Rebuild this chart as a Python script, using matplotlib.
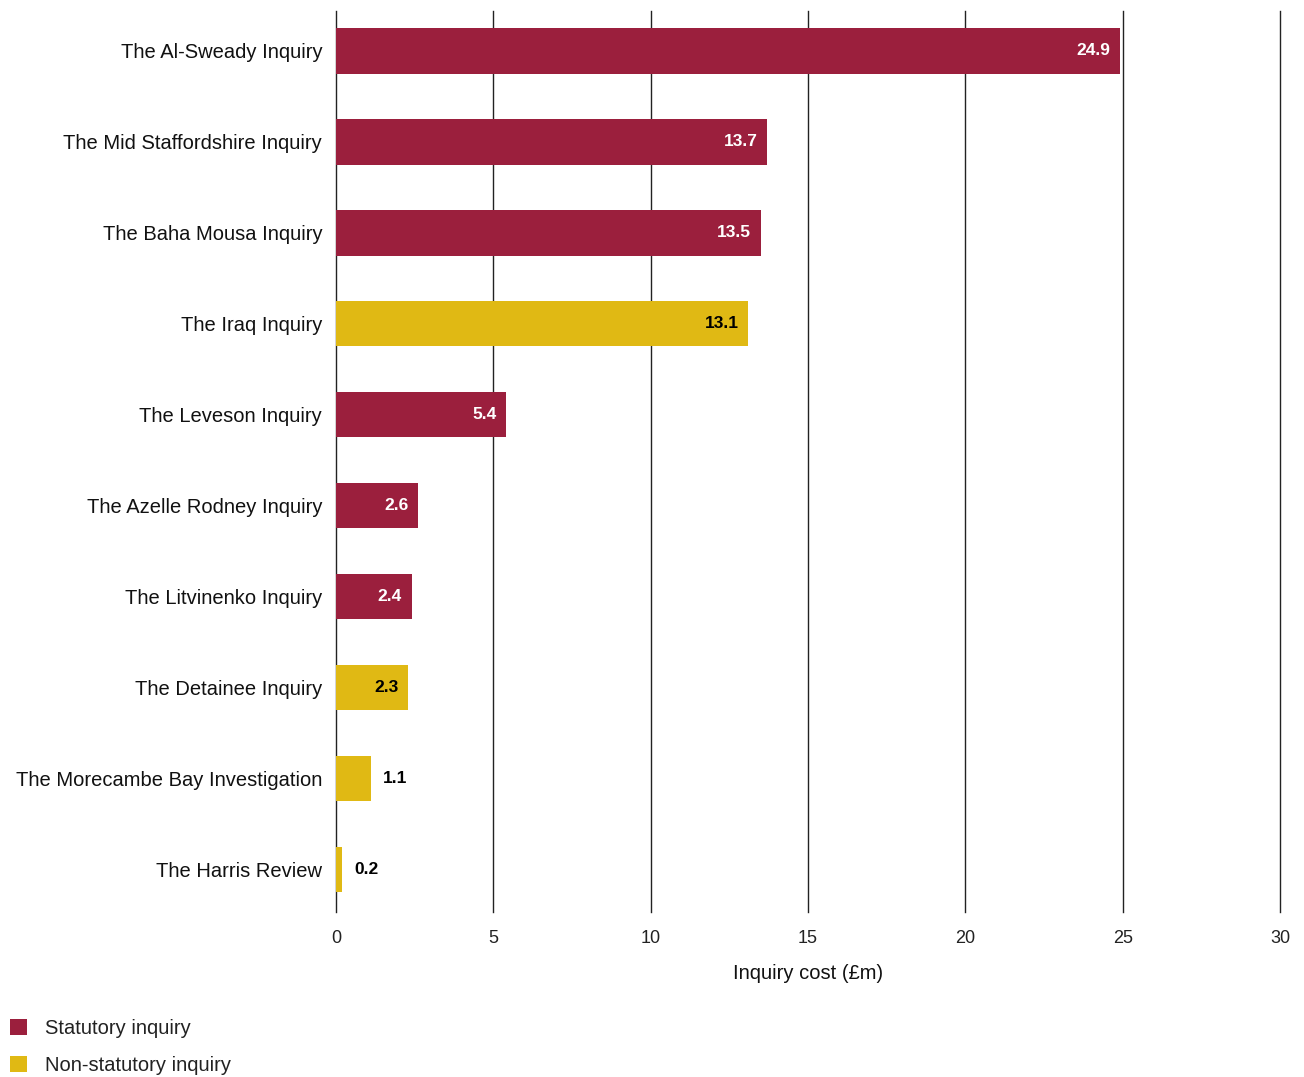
import matplotlib.pyplot as plt
from matplotlib.patches import Patch

plt.rcParams['font.family'] = ['Liberation Sans', 'DejaVu Sans']

inquiries = ['The Al-Sweady Inquiry', 'The Mid Staffordshire Inquiry', 'The Baha Mousa Inquiry',
             'The Iraq Inquiry', 'The Leveson Inquiry', 'The Azelle Rodney Inquiry',
             'The Litvinenko Inquiry', 'The Detainee Inquiry', 'The Morecambe Bay Investigation',
             'The Harris Review']
cost = [24.9, 13.7, 13.5, 13.1, 5.4, 2.6, 2.4, 2.3, 1.1, 0.2]
statutory = [True, True, True, False, True, True, True, False, False, False]
xticks = [0, 5, 10, 15, 20, 25, 30]

red = '#9b1f3d'
yellow = '#e0b914'

fig = plt.figure(figsize=(13.04, 10.77), dpi=100)
ax = fig.add_axes([0.2577, 0.1532, 0.7239, 0.8366])

colors = [red if s else yellow for s in statutory]
ypos = range(len(inquiries))
ax.barh(ypos, cost, height=0.5, color=colors, zorder=3)

for y, v, s in zip(ypos, cost, statutory):
    if v > 2:
        ax.annotate(f'{v:.1f}', (v, y), xytext=(-7, 0), textcoords='offset points',
                    ha='right', va='center', fontsize=12.5, fontweight='bold',
                    color='white' if s else 'black', zorder=4)
    else:
        ax.annotate(f'{v:.1f}', (v, y), xytext=(9, 0), textcoords='offset points',
                    ha='left', va='center', fontsize=12.5, fontweight='bold',
                    color='black', zorder=4)

ax.set_xlim(0, 30)
ax.set_ylim(9.47, -0.44)
ax.set_xticks(xticks)
ax.set_xticklabels([str(t) for t in xticks], fontsize=13, color='#222222')
ax.set_yticks(list(ypos))
ax.set_yticklabels(inquiries, fontsize=14.5, color='#111111')
ax.tick_params(axis='both', length=0)
ax.tick_params(axis='x', pad=13)
ax.tick_params(axis='y', pad=10)
for t in xticks:
    ax.axvline(t, color='#222222', linewidth=1, zorder=1, clip_on=False)
for sp in ax.spines.values():
    sp.set_visible(False)
ax.set_xlabel('Inquiry cost (£m)', fontsize=14.5, labelpad=12, color='#111111')

handles = [Patch(facecolor=red, label='Statutory inquiry'),
           Patch(facecolor=yellow, label='Non-statutory inquiry')]
fig.legend(handles=handles, loc='lower left', bbox_to_anchor=(-0.0065, -0.015), frameon=False,
           fontsize=14.5, handlelength=0.85, handleheight=0.85, handletextpad=0.9,
           labelspacing=0.9, labelcolor='#222222')

fig.savefig('out.png', dpi=100, facecolor='white')
